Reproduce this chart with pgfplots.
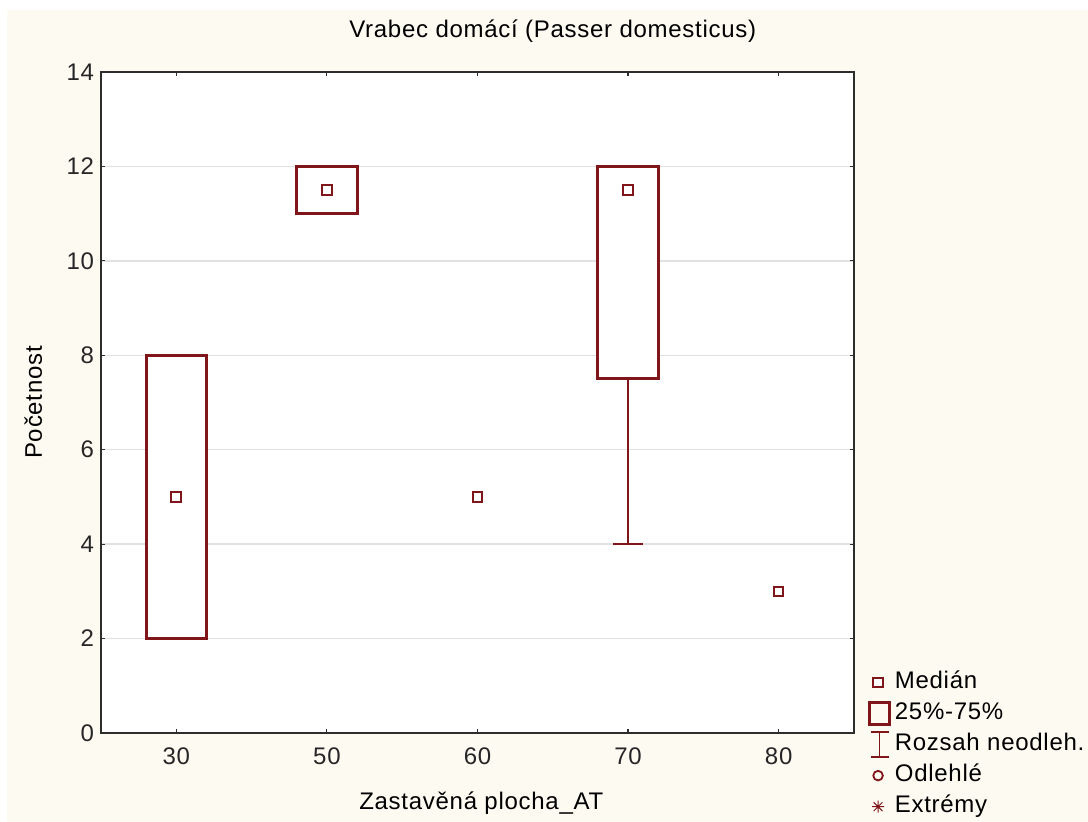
\documentclass[border=0pt]{standalone}
\usepackage{pgfplots}
\pgfplotsset{compat=1.18}
\usepackage{fontspec}
\setmainfont{Liberation Sans}[LetterSpace=3]
\definecolor{myred}{RGB}{128,22,26}
\definecolor{cream}{RGB}{253,250,242}
\definecolor{axgray}{RGB}{45,45,45}
\definecolor{gridgray}{RGB}{225,225,225}
\begin{document}
\begin{tikzpicture}
\useasboundingbox (0pt,0pt) rectangle (544pt,411pt);
\fill[white] (0pt,0pt) rectangle (544pt,411pt);
\fill[cream] (3.5pt,0pt) rectangle (544pt,406pt);
\begin{axis}[
  at={(50.5pt,44.5pt)}, anchor=south west,
  scale only axis, width=376.5pt, height=330.5pt,
  xmin=-0.5, xmax=4.5, ymin=0, ymax=14,
  xtick={0,1,2,3,4}, xticklabels={30,50,60,70,80},
  ytick={0,2,4,6,8,10,12,14},
  ymajorgrids, grid style={gridgray, line width=0.7pt},
  axis line style={axgray, line width=1pt},
  tick style={axgray, line width=0.6pt},
  major tick length=2pt,
  tick align=inside,
  axis background/.style={fill=white},
  font=\fontsize{12}{14}\selectfont,
  tick label style={font=\fontsize{12}{14}\selectfont, text=black!85},
  xticklabel style={yshift=-4pt},
  /pgf/number format/assume math mode=true,
  title={Vrabec domácí (Passer domesticus)},
  title style={at={(axis description cs:0.600,1.044)}, anchor=center, yshift=0pt, font=\fontsize{12}{14}\selectfont},
  xlabel={Zastavěná plocha\_AT},
  xlabel style={at={(axis description cs:0.505,-0.106)}, anchor=center},
  ylabel={Početnost},
  ylabel style={at={(axis description cs:-0.090,0.5)}, anchor=center, rotate=0},
  clip=false,
  legend style={at={(axis description cs:1.0106,0.104)}, anchor=north west,
    draw=none, fill=none, font=\fontsize{12}{14}\selectfont,
    row sep=1.5pt, nodes={inner sep=1pt, text height=9pt, text depth=3pt}},
  legend cell align=left,
]
% whisker caps and whiskers
\addplot[myred, line width=0.9pt, forget plot] coordinates {(-0.1,8) (0.1,8)};
\addplot[myred, line width=0.9pt, forget plot] coordinates {(-0.1,2) (0.1,2)};
\addplot[myred, line width=0.9pt, forget plot] coordinates {(0.9,12) (1.1,12)};
\addplot[myred, line width=0.9pt, forget plot] coordinates {(0.9,11) (1.1,11)};
\addplot[myred, line width=0.9pt, forget plot] coordinates {(2.9,12) (3.1,12)};
\addplot[myred, line width=0.9pt, forget plot] coordinates {(3,7.5) (3,4)};
\addplot[myred, line width=0.9pt, forget plot] coordinates {(2.9,4) (3.1,4)};
% boxes (25%-75%)
\addplot[myred, line width=1.5pt, fill=white, forget plot] coordinates {(-0.2,2) (0.2,2) (0.2,8) (-0.2,8)} -- cycle;
\addplot[myred, line width=1.5pt, fill=white, forget plot] coordinates {(0.8,11) (1.2,11) (1.2,12) (0.8,12)} -- cycle;
\addplot[myred, line width=1.5pt, fill=white, forget plot] coordinates {(2.8,7.5) (3.2,7.5) (3.2,12) (2.8,12)} -- cycle;
% medians
\addplot[only marks, mark=square, mark size=2.4pt, mark options={draw=myred, fill=white, line width=1pt, solid}, forget plot]
  coordinates {(0,5) (1,11.5) (2,5) (3,11.5) (4,3)};
\addlegendimage{legend image code/.code={
  \path[draw=none, fill=none] (0,-6pt) rectangle (12pt,6pt);
  \draw[myred, line width=1pt, fill=white] (2.3pt,-2.3pt) rectangle (6.9pt,2.3pt);}}
\addlegendentry{Medián}
\addlegendimage{legend image code/.code={
  \path[draw=none, fill=none] (0,-6pt) rectangle (12pt,6pt);
  \draw[myred, line width=1.5pt, fill=none] (0.5pt,-5.6pt) rectangle (10.3pt,5.6pt);}}
\addlegendentry{25\%-75\%}
\addlegendimage{legend image code/.code={
  \path[draw=none, fill=none] (0,-6pt) rectangle (12pt,6pt);
  \draw[myred, line width=0.9pt] (5.3pt,-6.2pt) -- (5.3pt,6.2pt) (1pt,-6.2pt) -- (10pt,-6.2pt) (1pt,6.2pt) -- (10pt,6.2pt);}}
\addlegendentry{Rozsah neodleh.}
\addlegendimage{legend image code/.code={
  \path[draw=none, fill=none] (0,-6pt) rectangle (12pt,6pt);
  \draw[myred, line width=0.9pt, fill=none] (4.6pt,0) circle (2.4pt);}}
\addlegendentry{Odlehlé}
\addlegendimage{legend image code/.code={
  \path[draw=none, fill=none] (0,-6pt) rectangle (12pt,6pt);
  \draw[myred, line width=0.5pt] (4.6pt,0) +(-3pt,0) -- +(3pt,0) +(0,-3pt) -- +(0,3pt) +(-2.2pt,-2.2pt) -- +(2.2pt,2.2pt) +(-2.2pt,2.2pt) -- +(2.2pt,-2.2pt);}}
\addlegendentry{Extrémy}
\end{axis}
\end{tikzpicture}
\end{document}
